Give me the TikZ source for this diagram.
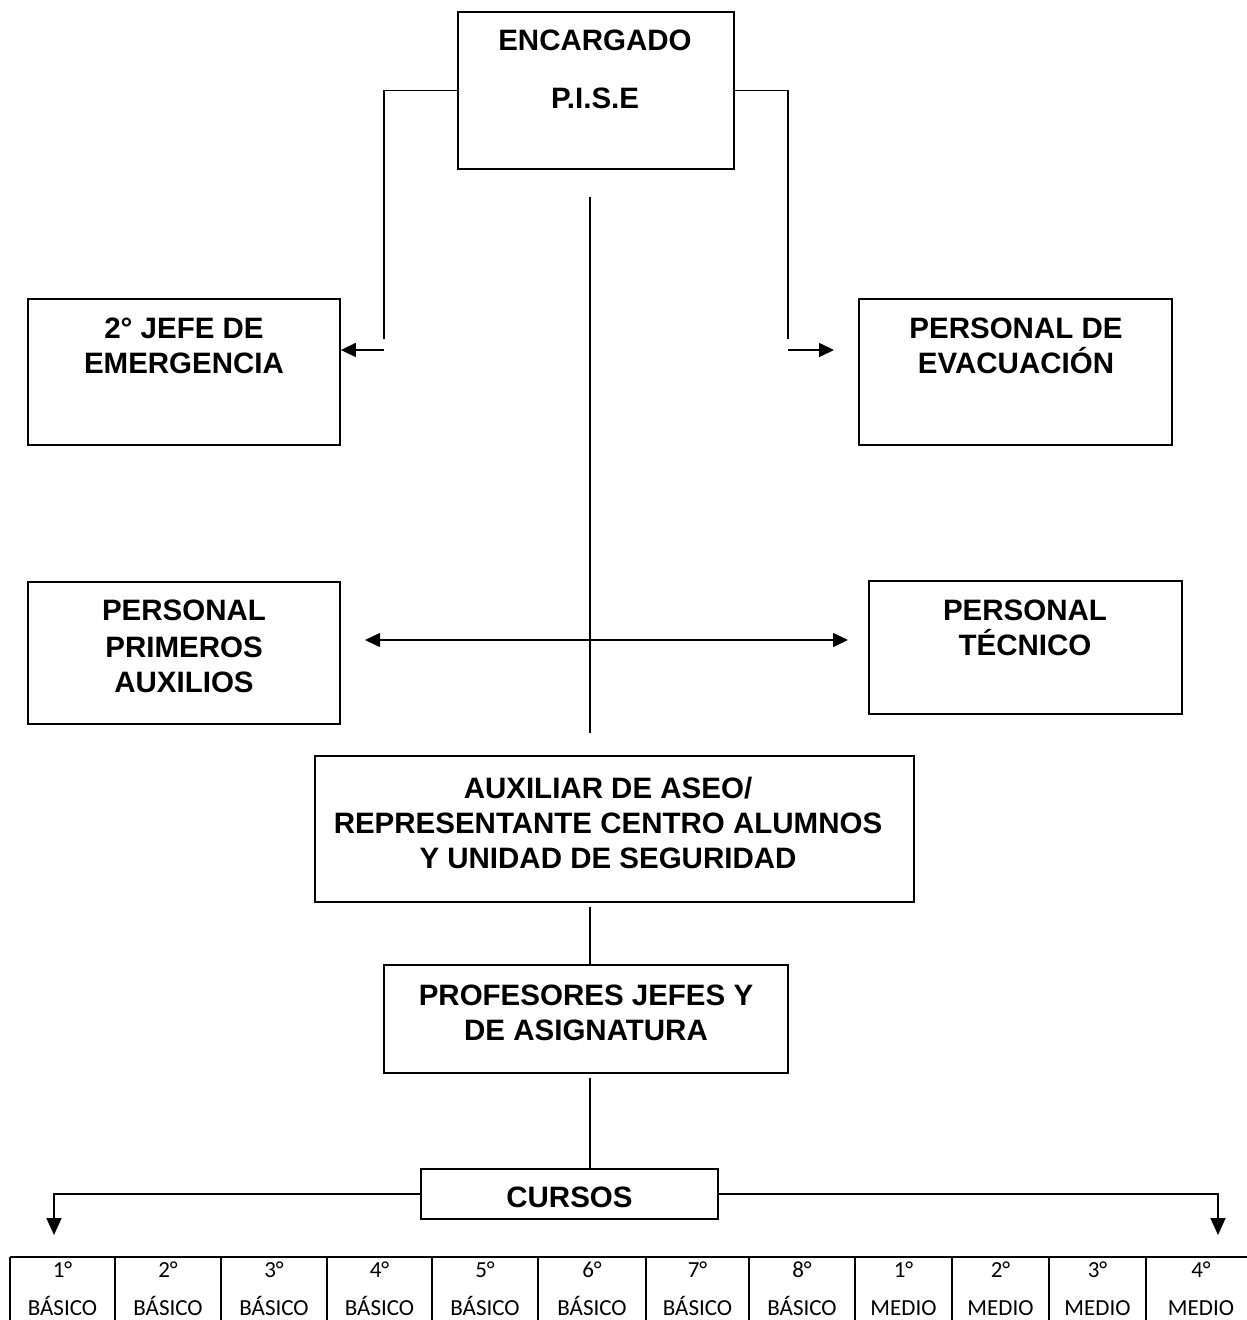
\documentclass[tikz,border=0pt]{standalone}
\usepackage{fontspec}
\setmainfont{Liberation Sans}
\newfontfamily\calfont{Carlito}
\usetikzlibrary{arrows.meta}
\begin{document}
\begin{tikzpicture}[x=1pt,y=-1pt,
  boxst/.style={draw,line width=1.8pt,inner sep=0pt},
  lbl/.style={font=\fontsize{29.5}{34}\selectfont\bfseries,inner sep=0pt,anchor=base},
  cell/.style={font=\calfont\fontsize{23}{28}\selectfont,inner sep=0pt,anchor=base},
  conn/.style={line width=1.6pt},
  arr/.style={conn,-{Triangle[length=15pt,width=14pt]}},
  arrb/.style={conn,-{Triangle[length=17pt,width=15pt]}},
  dbl/.style={conn,{Triangle[length=15pt,width=14pt]}-{Triangle[length=15pt,width=14pt]}}]
\useasboundingbox (0,0) rectangle (1247,1320);
\clip (0,0) rectangle (1247,1320);

% boxes
\node[boxst,minimum width=276pt,minimum height=157pt] (enc) at (596,90.5) {};
\node[lbl] (encA) at (595,40+10.5) {ENCARGADO};
\node[lbl] (encB) at (595,98+10.5) {P.I.S.E};

\node[boxst,minimum width=312pt,minimum height=146pt] (jefe) at (184,372) {};
\node[lbl] (jefeA) at (184,328+10.5) {2° JEFE DE};
\node[lbl] (jefeB) at (184,363+10.5) {EMERGENCIA};

\node[boxst,minimum width=313pt,minimum height=146pt] (evac) at (1015.5,372) {};
\node[lbl] (evacA) at (1016,328+10.5) {PERSONAL DE};
\node[lbl] (evacB) at (1016,363+10.5) {EVACUACIÓN};

\node[boxst,minimum width=312pt,minimum height=142pt] (prim) at (184,653) {};
\node[lbl] (primA) at (184,610+10.5) {PERSONAL};
\node[lbl] (primB) at (184,647+10.5) {PRIMEROS};
\node[lbl] (primC) at (184,682+10.5) {AUXILIOS};

\node[boxst,minimum width=313pt,minimum height=133pt] (tec) at (1025.5,647.5) {};
\node[lbl] (tecA) at (1025,610+10.5) {PERSONAL};
\node[lbl] (tecB) at (1025,645+10.5) {TÉCNICO};

\node[boxst,minimum width=599pt,minimum height=146pt] (aux) at (614.5,829) {};
\node[lbl] (auxA) at (608,788+10.5) {AUXILIAR DE ASEO/};
\node[lbl] (auxB) at (608,823+10.5) {REPRESENTANTE CENTRO ALUMNOS};
\node[lbl] (auxC) at (608,858+10.5) {Y UNIDAD DE SEGURIDAD};

\node[boxst,minimum width=404pt,minimum height=108pt] (prof) at (586,1019) {};
\node[lbl] (profA) at (586,995+10.5) {PROFESORES JEFES Y};
\node[lbl] (profB) at (586,1030+10.5) {DE ASIGNATURA};

\node[boxst,minimum width=297pt,minimum height=50pt] (cur) at (569.5,1194) {};
\node[lbl] (curA) at (569.5,1197+10.5) {CURSOS};

% connectors
\coordinate (cL) at (384,339);
\coordinate (aL) at (384,350);
\draw[conn] (enc.west) -| (cL);
\draw[arr] (aL) -- (aL -| jefe.east);

\coordinate (cR) at (788,339);
\coordinate (aR) at (788,350);
\coordinate (aRe) at (834,350);
\draw[conn] (enc.east) -| (cR);
\draw[arr] (aR) -- (aRe);

\coordinate (v1) at (590,197);
\coordinate (v2) at (590,733);
\draw[conn] (v1) -- (v2);

\coordinate (h1) at (365,640);
\coordinate (h2) at (848,640);
\draw[dbl] (h1) -- (h2);

\coordinate (v3) at (590,907);
\draw[conn] (v3) -- (v3 |- prof.north);
\coordinate (v4) at (590,1078);
\draw[conn] (v4) -- (v4 |- cur.north);

\coordinate (bl) at (54,1235);
\coordinate (br) at (1218,1235);
\draw[arrb] (cur.west) -| (bl);
\draw[arrb] (cur.east) -| (br);

% table
\draw[line width=1.8pt] (10,1257) -- (1270,1257);
\foreach \xx in {10,115,221,327,432,538,646,749,855,952,1049,1146}
  \draw[line width=1.6pt] (\xx,1257) -- (\xx,1330);
\foreach \cx/\num/\lvl [count=\i] in {62.5/1/BÁSICO,168/2/BÁSICO,274/3/BÁSICO,379.5/4/BÁSICO,485/5/BÁSICO,592/6/BÁSICO,697.5/7/BÁSICO,802/8/BÁSICO,903.5/1/MEDIO,1000.5/2/MEDIO,1097.5/3/MEDIO,1201/4/MEDIO}{
  \node[cell] (n\i) at (\cx,1270+7.5) {\num°};
  \node[cell] (l\i) at (\cx,1308+7.5) {\lvl};
}
\end{tikzpicture}
\end{document}
